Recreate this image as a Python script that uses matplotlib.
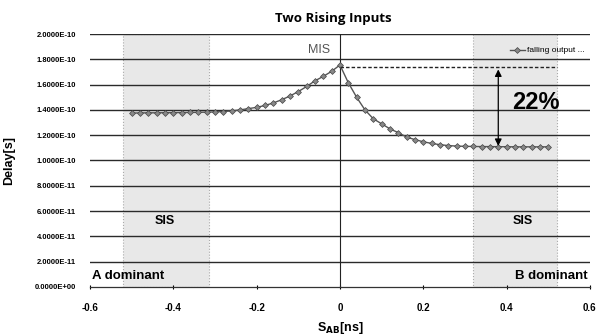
import matplotlib
matplotlib.use("Agg")
import matplotlib.pyplot as plt
from matplotlib.patches import Rectangle

# ---- data ----
skew_ns = [-0.50, -0.48, -0.46, -0.44, -0.42, -0.40, -0.38, -0.36, -0.34, -0.32,
           -0.30, -0.28, -0.26, -0.24, -0.22, -0.20, -0.18, -0.16, -0.14, -0.12,
           -0.10, -0.08, -0.06, -0.04, -0.02, 0.00,
           0.02, 0.04, 0.06, 0.08, 0.10, 0.12, 0.14, 0.16, 0.18, 0.20,
           0.22, 0.24, 0.26, 0.28, 0.30, 0.32, 0.34, 0.36, 0.38, 0.40,
           0.42, 0.44, 0.46, 0.48, 0.50]
delay_e10 = [1.375, 1.376, 1.377, 1.377, 1.378, 1.378, 1.379, 1.380, 1.381, 1.382,
             1.384, 1.387, 1.392, 1.400, 1.410, 1.420, 1.435, 1.455, 1.480, 1.510,
             1.545, 1.585, 1.630, 1.665, 1.705, 1.755,
             1.615, 1.500, 1.400, 1.330, 1.290, 1.250, 1.220, 1.185, 1.165, 1.148,
             1.135, 1.125, 1.118, 1.114, 1.112, 1.111, 1.110, 1.110, 1.109, 1.109,
             1.108, 1.108, 1.108, 1.108, 1.108]
delay = [v * 1e-10 for v in delay_e10]

series_label = "falling output ..."
title = "Two Rising Inputs"
x_ticks = [-0.6, -0.4, -0.2, 0, 0.2, 0.4, 0.6]
x_tick_labels = ["-0.6", "-0.4", "-0.2", "0", "0.2", "0.4", "0.6"]
y_ticks = [0, 2e-11, 4e-11, 6e-11, 8e-11, 1e-10, 1.2e-10, 1.4e-10, 1.6e-10, 1.8e-10, 2e-10]
y_tick_labels = ["0.0000E+00", "2.0000E-11", "4.0000E-11", "6.0000E-11", "8.0000E-11",
                 "1.0000E-10", "1.2000E-10", "1.4000E-10", "1.6000E-10", "1.8000E-10",
                 "2.0000E-10"]
sis_regions = [(-0.52, -0.315), (0.32, 0.52)]
mis_level = 1.74e-10
sis_level = 1.115e-10
pct_text = "22%"

# ---- figure ----
fig = plt.figure(figsize=(5.98, 3.35), dpi=100)
ax = fig.add_axes([0.1505, 0.1433, 0.836, 0.7552])
ax.set_xlim(-0.6, 0.6)
ax.set_ylim(0, 2e-10)

for lo, hi in sis_regions:
    ax.add_patch(Rectangle((lo, 0), hi - lo, 2e-10, facecolor="#e8e8e8",
                           edgecolor="#aaaaaa", linestyle=":", linewidth=0.8, zorder=0))

for yt in y_ticks[1:]:
    ax.axhline(yt, color="#2a2a2a", linewidth=1.0, zorder=1)

ax.axvline(0, color="#222222", linewidth=0.8, zorder=2)

ax.plot(skew_ns, delay, color="#555555", linewidth=1.0, marker="D", markersize=3,
        markerfacecolor="#888888", markeredgecolor="#444444", markeredgewidth=0.5,
        label=series_label, zorder=3)

ax.plot([0, 0.52], [mis_level, mis_level], color="#222222", linestyle=(0, (2.5, 1.5)),
        linewidth=1.0, zorder=3)
ax.annotate("", xy=(0.38, mis_level - 0.02e-10), xytext=(0.38, sis_level),
            arrowprops=dict(arrowstyle="<|-|>", color="black", lw=0.9,
                            mutation_scale=10, shrinkA=0, shrinkB=0), zorder=4)

ax.text(0.47, 1.46e-10, pct_text, fontsize=17, fontweight="bold", ha="center",
        va="center", family="Liberation Sans", zorder=5)
ax.text(-0.05, 1.87e-10, "MIS", fontsize=9, color="#555555", ha="center",
        va="center", family="Liberation Sans", zorder=5)
ax.text(-0.42, 0.52e-10, "SIS", fontsize=9, fontweight="bold", ha="center",
        va="center", family="Liberation Sans", zorder=5)
ax.text(0.44, 0.52e-10, "SIS", fontsize=9, fontweight="bold", ha="center",
        va="center", family="Liberation Sans", zorder=5)
ax.text(-0.595, 0.09e-10, "A dominant", fontsize=9.5, fontweight="bold", ha="left",
        va="center", family="Liberation Sans", zorder=5)
ax.text(0.595, 0.09e-10, "B dominant", fontsize=9.5, fontweight="bold", ha="right",
        va="center", family="Liberation Sans", zorder=5)

leg = ax.legend(loc="upper right", bbox_to_anchor=(1.0, 0.97), frameon=False,
                handlelength=1.8, handletextpad=0.3, borderaxespad=0.2,
                prop={"family": "Liberation Sans", "size": 6})

ax.set_xticks(x_ticks)
ax.set_xticklabels(x_tick_labels, fontsize=7, fontweight="bold", family="Liberation Sans")
ax.set_yticks(y_ticks)
ax.set_yticklabels(y_tick_labels, fontsize=5.5, fontweight="bold", family="Liberation Sans")
ax.tick_params(axis="y", length=0, pad=10)
ax.tick_params(axis="x", length=3, direction="inout", width=0.8, pad=10)

for s in ["top", "right", "left"]:
    ax.spines[s].set_visible(False)
ax.spines["bottom"].set_color("#333333")
ax.spines["bottom"].set_linewidth(0.9)

title_text = ax.set_title(title, fontsize=9.5, fontweight="bold", family="Open Sans", pad=9)
title_text.set_x(0.486)
ax.set_xlabel(r"S$_{\mathbf{AB}}$[ns]", fontsize=9, fontweight="bold",
              family="Liberation Sans", labelpad=0)
ax.xaxis.set_label_coords(0.5, -0.13)
ax.set_ylabel("Delay[s]", fontsize=9, fontweight="bold", family="Liberation Sans")
ax.yaxis.set_label_coords(-0.15, 0.5)

fig.savefig("out.png", dpi=100)
